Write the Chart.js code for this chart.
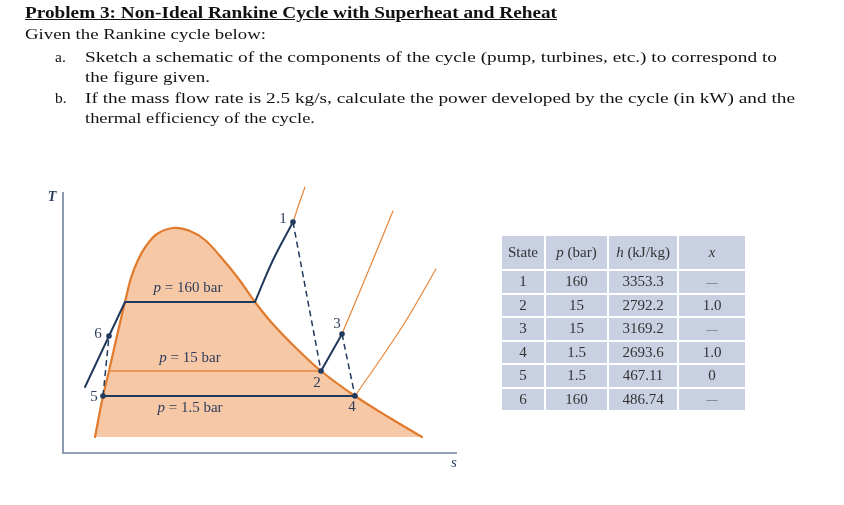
<!DOCTYPE html>
<html><head><meta charset="utf-8">
<script src="https://cdn.jsdelivr.net/npm/chart.js@4"></script>
<style>
html,body{margin:0;padding:0;background:#fff;width:844px;height:505px;overflow:hidden;position:relative;}
#c{position:absolute;left:0;top:0;z-index:0;}
.t{position:absolute;left:0;top:0;white-space:nowrap;font-family:"Liberation Serif",serif;font-size:15.5px;color:#111;transform-origin:0 0;z-index:2;}
.b{font-weight:bold;font-size:17.5px;}
#tbl{position:absolute;left:500px;top:234px;border-collapse:collapse;table-layout:fixed;z-index:2;
 font-family:"Liberation Serif",serif;font-size:15px;color:#333;}
#tbl td{background:#c9d0e2;border:2px solid #fff;text-align:center;padding:0;}
#tbl td.dash{font-size:11px;color:#555;}
</style></head>
<body>
<canvas id="c" width="844" height="505"></canvas>
<div class="t b" id="l0"><u>Problem 3: Non-Ideal Rankine Cycle with Superheat and Reheat</u></div>
<div class="t" id="l1">Given the Rankine cycle below:</div>
<div class="t" id="la">a.</div>
<div class="t" id="l2">Sketch a schematic of the components of the cycle (pump, turbines, etc.) to correspond to</div>
<div class="t" id="l3">the figure given.</div>
<div class="t" id="lb">b.</div>
<div class="t" id="l4">If the mass flow rate is 2.5 kg/s, calculate the power developed by the cycle (in kW) and the</div>
<div class="t" id="l5">thermal efficiency of the cycle.</div>
<table id="tbl"></table>
<script>
// ---- table data ----
const tableHeaders = ['State', '<i>p</i> (bar)', '<i>h</i> (kJ/kg)', '<i>x</i>'];
const states   = ['1', '2', '3', '4', '5', '6'];
const pBar     = ['160', '15', '15', '1.5', '1.5', '160'];
const hKJkg    = ['3353.3', '2792.2', '3169.2', '2693.6', '467.11', '486.74'];
const quality  = ['—', '1.0', '—', '1.0', '0', '—'];

// ---- T-s sketch data (sketch units: s, T) ----
const domeS = [32, 40, 46, 53, 62, 68, 75, 83, 94, 110, 127, 142, 157, 175, 192, 208, 233, 258, 292, 327, 359];
const domeT = [16, 57, 82, 113, 151, 175, 193, 207, 219, 225, 222, 213, 197, 175, 151, 131, 105, 82, 57, 35, 16];
const stateS = [230, 258, 279, 292, 40, 46];
const stateT = [231, 82, 119, 57, 57, 117];
const liquid160S = [22, 46, 62],   liquid160T = [66, 117, 151];
const boil160S   = [62, 192],      boil160T   = [151, 151];
const super160S  = [192, 210, 230], super160T = [151, 193, 231];
const ext160S    = [230, 236, 242], ext160T   = [231, 249, 266];
const sat15S     = [46, 258],      sat15T     = [82, 82];
const reheatS    = [258, 279],     reheatT    = [82, 119];
const ext15S     = [279, 307, 330], ext15T    = [119, 186, 242];
const cond15S    = [40, 292],      cond15T    = [57, 57];
const ext1p5S    = [292, 339, 373], ext1p5T   = [57, 126, 184];
const axisS      = [0, 0, 394],    axisT      = [261, 0, 0];
const pressures  = ['160', '15', '1.5'];

// build table
(function(){
  const t = document.getElementById('tbl');
  const widths = [44, 63, 70, 68];
  const cell = v => v === '—' ? '<td class="dash">' + v + '</td>' : '<td>' + v + '</td>';
  let h = '<colgroup>' + widths.map(w => '<col style="width:' + w + 'px">').join('') + '</colgroup>';
  h += '<tr style="height:35px">' + tableHeaders.map(c => '<td>' + c + '</td>').join('') + '</tr>';
  states.forEach((s, i) => {
    h += '<tr style="height:23.5px">' + cell(s) + cell(pBar[i]) + cell(hKJkg[i]) + cell(quality[i]) + '</tr>';
  });
  t.innerHTML = h;
})();

// place text lines by baseline and (optionally) fit width
function place(id, x, base, right){
  const el = document.getElementById(id);
  const m = document.createElement('span');
  m.style.cssText = 'display:inline-block;width:0;height:0;';
  el.appendChild(m);
  el.style.left = x + 'px';
  const off = m.offsetTop;
  el.style.top = (base - off) + 'px';
  if (right) {
    const w = el.getBoundingClientRect().width;
    el.style.transform = 'scaleX(' + ((right - x) / w) + ')';
  }
}
place('l0', 25, 17.5, 557);
place('l1', 25, 39.3, 266);
place('la', 55, 61.7);
place('l2', 85, 61.7, 777);
place('l3', 85, 82, 210);
place('lb', 55, 102.5);
place('l4', 85, 102.5, 795);
place('l5', 85, 123, 315);

// ---- chart ----
const NAVY = '#22395e', ORANGE = '#e07a2c', THIN = '#e6863b', PEACH = '#f7c8a5', AXIS = '#6f82a0';
const pts = (S, T) => S.map((s, i) => ({x: s, y: T[i]}));
function ln(S, T, color, width, extra){
  return Object.assign({data: pts(S, T), borderColor: color, borderWidth: width, pointRadius: 0,
    fill: false, tension: 0, clip: false, borderCapStyle: 'round', borderJoinStyle: 'round'}, extra || {});
}
const seg = (a, b) => [[stateS[a], stateS[b]], [stateT[a], stateT[b]]];
const d12 = seg(0, 1), d34 = seg(2, 3), d56 = seg(4, 5);
const DASH = {borderDash: [6, 4], borderCapStyle: 'butt', order: 3};

const labelPlugin = {
  id: 'labels',
  afterDatasetsDraw(chart){
    const {ctx} = chart; const xs = chart.scales.x, ys = chart.scales.y;
    const X = v => xs.getPixelForValue(v), Y = v => ys.getPixelForValue(v);
    ctx.save();
    ctx.fillStyle = '#2c3d5c'; ctx.textBaseline = 'middle'; ctx.textAlign = 'center';
    ctx.font = '15px "Liberation Serif"';
    const off = [[-10, -3], [-4, 12], [-5, -10], [-3, 11], [-9, 1], [-11, -2]];
    states.forEach((n, i) => ctx.fillText(n, X(stateS[i]) + off[i][0], Y(stateT[i]) + off[i][1]));
    // pressure labels
    const anchors = [[125, boil160T[0], -14], [127, sat15T[0], -13], [127, cond15T[0], 12]];
    anchors.forEach((a, i) => {
      const cx = X(a[0]), cy = Y(a[1]) + a[2];
      ctx.font = 'italic 15px "Liberation Serif"'; const w1 = ctx.measureText('p').width;
      const rest = ' = ' + pressures[i] + ' bar';
      ctx.font = '15px "Liberation Serif"'; const w2 = ctx.measureText(rest).width;
      const x0 = cx - (w1 + w2) / 2; ctx.textAlign = 'left';
      ctx.font = 'italic 15px "Liberation Serif"'; ctx.fillText('p', x0, cy);
      ctx.font = '15px "Liberation Serif"'; ctx.fillText(rest, x0 + w1, cy);
    });
    // axis titles
    ctx.textAlign = 'center';
    ctx.font = 'italic bold 14px "Liberation Serif"';
    ctx.fillText('T', X(axisS[0]) - 11, Y(axisT[0]) + 5);
    ctx.font = 'italic 15px "Liberation Serif"';
    ctx.fillText('s', X(axisS[2]) - 3, Y(axisT[2]) + 10);
    ctx.restore();
  }
};

new Chart(document.getElementById('c'), {
  type: 'line',
  data: {datasets: [
    Object.assign({data: pts(stateS, stateT), showLine: false, pointRadius: 2.8, pointBackgroundColor: NAVY,
      pointBorderWidth: 0, clip: false, order: 1}),
    ln(liquid160S, liquid160T, NAVY, 2, {order: 2}),
    ln(boil160S, boil160T, NAVY, 2.2, {order: 2}),
    ln(super160S, super160T, NAVY, 2, {order: 2, tension: 0.4}),
    ln(reheatS, reheatT, NAVY, 2, {order: 2}),
    ln(cond15S, cond15T, NAVY, 2.2, {order: 2}),
    ln(d12[0], d12[1], NAVY, 1.5, DASH),
    ln(d34[0], d34[1], NAVY, 1.5, DASH),
    ln(d56[0], d56[1], NAVY, 1.5, DASH),
    ln(ext160S, ext160T, THIN, 1.2, {order: 4}),
    ln(sat15S, sat15T, THIN, 1.3, {order: 4}),
    ln(ext15S, ext15T, THIN, 1.2, {order: 4, tension: 0.4}),
    ln(ext1p5S, ext1p5T, THIN, 1.2, {order: 4, tension: 0.4}),
    ln(domeS, domeT, ORANGE, 2.2, {order: 6, tension: 0.35, fill: {value: 16}, backgroundColor: PEACH}),
    ln(axisS, axisT, AXIS, 1.6, {order: 7, borderCapStyle: 'butt', borderJoinStyle: 'miter'})
  ]},
  options: {
    responsive: false, animation: false, devicePixelRatio: 1,
    layout: {padding: {left: 63, top: 192, right: 387, bottom: 52}},
    scales: {
      x: {type: 'linear', min: 0, max: 394, display: false},
      y: {type: 'linear', min: 0, max: 261, display: false}
    },
    plugins: {legend: {display: false}, tooltip: {enabled: false}}
  },
  plugins: [labelPlugin]
});
</script>
</body></html>
